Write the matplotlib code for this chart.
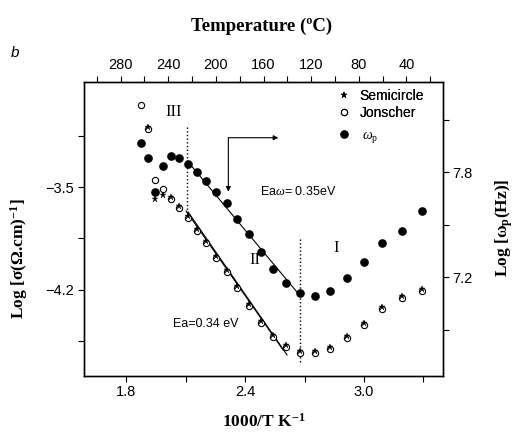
import matplotlib
matplotlib.use("Agg")
import matplotlib.pyplot as plt
from matplotlib.ticker import MultipleLocator, FixedLocator

plt.rcParams['font.family'] = ['Liberation Sans', 'DejaVu Sans']
plt.rcParams['mathtext.fontset'] = 'custom'
plt.rcParams['mathtext.rm'] = 'Liberation Serif'
plt.rcParams['mathtext.it'] = 'Liberation Serif:italic'
plt.rcParams['mathtext.bf'] = 'Liberation Serif:bold'

# 1000/T (K^-1)
x_wp = [1.874, 1.912, 1.948, 1.985, 2.027, 2.069, 2.113, 2.156, 2.203, 2.255,
        2.308, 2.361, 2.420, 2.479, 2.541, 2.607, 2.677, 2.753, 2.830, 2.913,
        2.999, 3.091, 3.192, 3.294]
# log omega_p (right axis)
log_wp = [7.969, 7.882, 7.686, 7.834, 7.893, 7.883, 7.846, 7.802, 7.750, 7.686,
          7.623, 7.535, 7.445, 7.345, 7.247, 7.167, 7.109, 7.095, 7.122, 7.198,
          7.289, 7.398, 7.465, 7.579]

x_jon = [1.874, 1.912, 1.948, 1.985, 2.027, 2.069, 2.113, 2.156, 2.203, 2.255,
         2.308, 2.361, 2.420, 2.479, 2.541, 2.607, 2.677, 2.753, 2.830, 2.913,
         2.999, 3.091, 3.192, 3.294]
sig_jon = [-2.943, -3.104, -3.452, -3.514, -3.582, -3.641, -3.713, -3.797, -3.881, -3.984,
           -4.076, -4.189, -4.309, -4.423, -4.518, -4.586, -4.626, -4.631, -4.599, -4.524,
           -4.440, -4.327, -4.253, -4.207]

x_semi = [1.912, 1.948, 1.985, 2.027, 2.069, 2.113, 2.156, 2.203, 2.255,
          2.308, 2.361, 2.420, 2.479, 2.541, 2.607, 2.677, 2.753, 2.830, 2.913,
          2.999, 3.091, 3.192, 3.294]
sig_semi = [-3.090, -3.584, -3.556, -3.568, -3.627, -3.699, -3.783, -3.867, -3.970,
            -4.062, -4.175, -4.295, -4.409, -4.504, -4.572, -4.612, -4.617, -4.585, -4.510,
            -4.426, -4.313, -4.239, -4.193]

# linear fits (end points)
fit_wp_x = [2.113, 2.662]
fit_wp_y = [7.859, 7.116]
fit_jon_x = [2.103, 2.592]
fit_jon_y = [-3.663, -4.608]
fit_semi_x = [2.113, 2.612]
fit_semi_y = [-3.670, -4.642]

temp_ticks = [280, 240, 200, 160, 120, 80, 40]

fig = plt.figure(figsize=(5.17, 4.32), dpi=100)
ax = fig.add_axes([0.1625, 0.1303, 0.6938, 0.6799])
axr = ax.twinx()
axt = ax.twiny()

ax.set_xlim(1.588, 3.397)
ax.set_ylim(-4.783, -2.786)
axr.set_ylim(6.638, 8.316)
axt.set_xlim(310.8, 9.5)

# semicircle / Jonscher conductivity
ax.plot(x_semi, sig_semi, '*', ms=5, color='black', mew=0.3,
        label='Semicircle', zorder=4)
ax.plot(x_jon, sig_jon, 'o', ms=4.5, mfc='white', mec='black', mew=0.8,
        label='Jonscher', zorder=3)
ax.plot(fit_jon_x, fit_jon_y, '-', color='black', lw=0.8)
ax.plot(fit_semi_x, fit_semi_y, '-', color='black', lw=0.8)

# omega_p
axr.plot(x_wp, log_wp, 'o', ms=5.2, color='black', label=r'$\omega_{\rm p}$')
axr.plot(fit_wp_x, fit_wp_y, '-', color='black', lw=0.8)

# region separators
ax.plot([2.108, 2.108], [-3.090, -3.702], ':', color='black', lw=1.0)
ax.plot([2.677, 2.677], [-3.856, -4.699], ':', color='black', lw=1.0)

# arrow
ax.annotate('', xy=(2.568, -3.165), xytext=(2.316, -3.165),
            arrowprops=dict(arrowstyle='-|>', color='black', lw=0.8,
                            mutation_scale=7, shrinkA=0, shrinkB=0))
ax.annotate('', xy=(2.316, -3.532), xytext=(2.316, -3.165),
            arrowprops=dict(arrowstyle='-|>', color='black', lw=0.8,
                            mutation_scale=7, shrinkA=0, shrinkB=0))

serif = 'Liberation Serif'
ax.text(2.042, -2.990, 'III', family=serif, fontsize=12, ha='center', va='center')
ax.text(2.450, -3.996, 'II', family=serif, fontsize=12, ha='center', va='center')
ax.text(2.862, -3.915, 'I', family=serif, fontsize=12, ha='center', va='center')
ax.text(2.476, -3.532, 'Ea' + r'$\mathit{\omega}$' + '= 0.35eV', fontsize=9,
        ha='left', va='center')
ax.text(2.038, -4.431, 'Ea=0.34 eV', fontsize=9, ha='left', va='center')

# ticks
ax.xaxis.set_major_locator(FixedLocator([1.8, 2.4, 3.0]))
ax.xaxis.set_minor_locator(FixedLocator([2.1, 2.7, 3.3]))
ax.xaxis.set_major_formatter(plt.FuncFormatter(lambda v, p: f'{v:.1f}'))
ax.yaxis.set_major_locator(FixedLocator([-3.5, -4.2]))
ax.yaxis.set_minor_locator(FixedLocator([-3.15, -3.85, -4.55]))
axr.yaxis.set_major_locator(FixedLocator([7.2, 7.8]))
axr.yaxis.set_minor_locator(FixedLocator([6.9, 7.5, 8.1]))
axt.xaxis.set_major_locator(FixedLocator(temp_ticks))
axt.xaxis.set_minor_locator(MultipleLocator(20))

for a in (ax, axr, axt):
    a.tick_params(which='both', direction='out', length=4, width=0.8,
                  labelsize=10.5, pad=3)
    for s in a.spines.values():
        s.set_linewidth(0.9)

# labels
ax.set_xlabel(r'1000/T K$^{\mathbf{-1}}$', family=serif, fontsize=12.5,
              fontweight='bold')
ax.xaxis.set_label_coords(0.5, -0.125)
ax.set_ylabel(r'Log [σ(Ω.cm)$^{\mathbf{-1}}$]', family=serif, fontsize=12.5,
              fontweight='bold')
ax.yaxis.set_label_coords(-0.1505, 0.40)
axr.set_ylabel(r'Log [ω$_{\mathbf{p}}$(Hz)]', family=serif, fontsize=12.5,
               fontweight='bold', rotation=90)
axr.yaxis.set_label_coords(1.14, 0.503)
axt.set_xlabel('Temperature (ºC)', family=serif, fontsize=13.5,
               fontweight='bold')
axt.xaxis.set_label_coords(0.495, 1.173)
fig.text(0.03, 0.877, 'b', fontsize=11, style='italic', ha='center', va='center')

# legends
leg1 = ax.legend(loc='upper left', bbox_to_anchor=(0.69, 0.995), frameon=False,
                 fontsize=10, handlelength=1.0, handletextpad=0.6,
                 labelspacing=0.2, borderaxespad=0)
ax.add_artist(leg1)
leg2 = axr.legend(loc='upper left', bbox_to_anchor=(0.69, 0.86), frameon=False,
                  handlelength=1.0, handletextpad=0.8,
                  borderaxespad=0, prop={'family': serif, 'size': 10})

fig.savefig('out.png', dpi=100)
